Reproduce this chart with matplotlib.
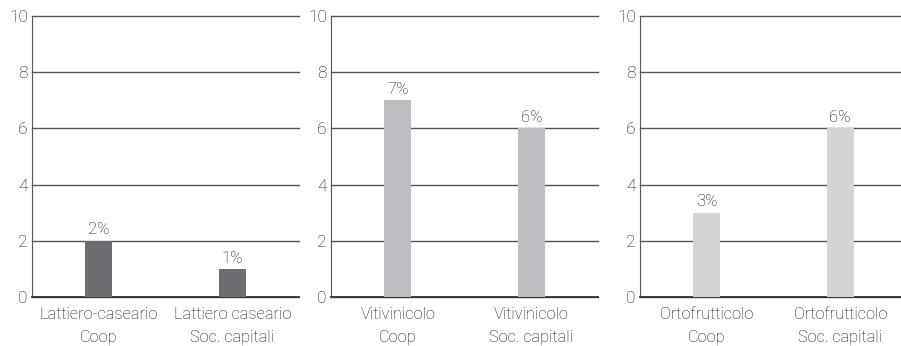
import matplotlib.pyplot as plt

plt.rcParams['font.family'] = ['Roboto', 'DejaVu Sans']
plt.rcParams['font.weight'] = 'light'

# data per panel
labels_lattiero = ['Lattiero-caseario\nCoop', 'Lattiero caseario\nSoc. capitali']
labels_viti = ['Vitivinicolo\nCoop', 'Vitivinicolo\nSoc. capitali']
labels_orto = ['Ortofrutticolo\nCoop', 'Ortofrutticolo\nSoc. capitali']
values_lattiero = [2, 1]
values_viti = [7, 6]
values_orto = [3, 6]

panels = [
    (labels_lattiero, values_lattiero, '#6d6e71', 32),
    (labels_viti, values_viti, '#bcbdc0', 331),
    (labels_orto, values_orto, '#d1d3d4', 640),
]

W, H = 901, 346
fig = plt.figure(figsize=(W / 100, H / 100), dpi=100)
text_col = '#141414'

for labels, vals, col, left_px in panels:
    ax = fig.add_axes([left_px / W, 49 / H, 267 / W, 281 / H])
    x = range(len(vals))
    ax.bar(x, vals, width=0.2, color=col, zorder=3)
    for xi, v in zip(x, vals):
        ax.text(xi, v + 0.12, f'{v}%', ha='center', va='bottom', fontsize=12,
                color=text_col, fontweight='light')
    ax.set_xlim(-0.5, 1.5)
    ax.set_ylim(0, 10)
    ax.set_yticks([0, 2, 4, 6, 8, 10])
    ax.set_xticks(list(x))
    ax.set_xticklabels(labels, fontsize=11.8, color=text_col, linespacing=1.7,
                       fontweight='light')
    ax.tick_params(length=0, labelcolor=text_col)
    ax.tick_params(axis='x', pad=7)
    ax.tick_params(axis='y', labelsize=12.5, pad=3)
    for t in ax.get_yticklabels():
        t.set_fontweight('light')
    ax.grid(axis='y', color='#555555', linewidth=1.0, zorder=0)
    for g in ax.get_ygridlines():
        g.set_clip_on(False)
    for s in ['top', 'right']:
        ax.spines[s].set_visible(False)
    ax.spines['left'].set_color('#555555')
    ax.spines['bottom'].set_color('#333333')
    ax.spines['bottom'].set_linewidth(1.3)

fig.savefig('out.png', dpi=100)
